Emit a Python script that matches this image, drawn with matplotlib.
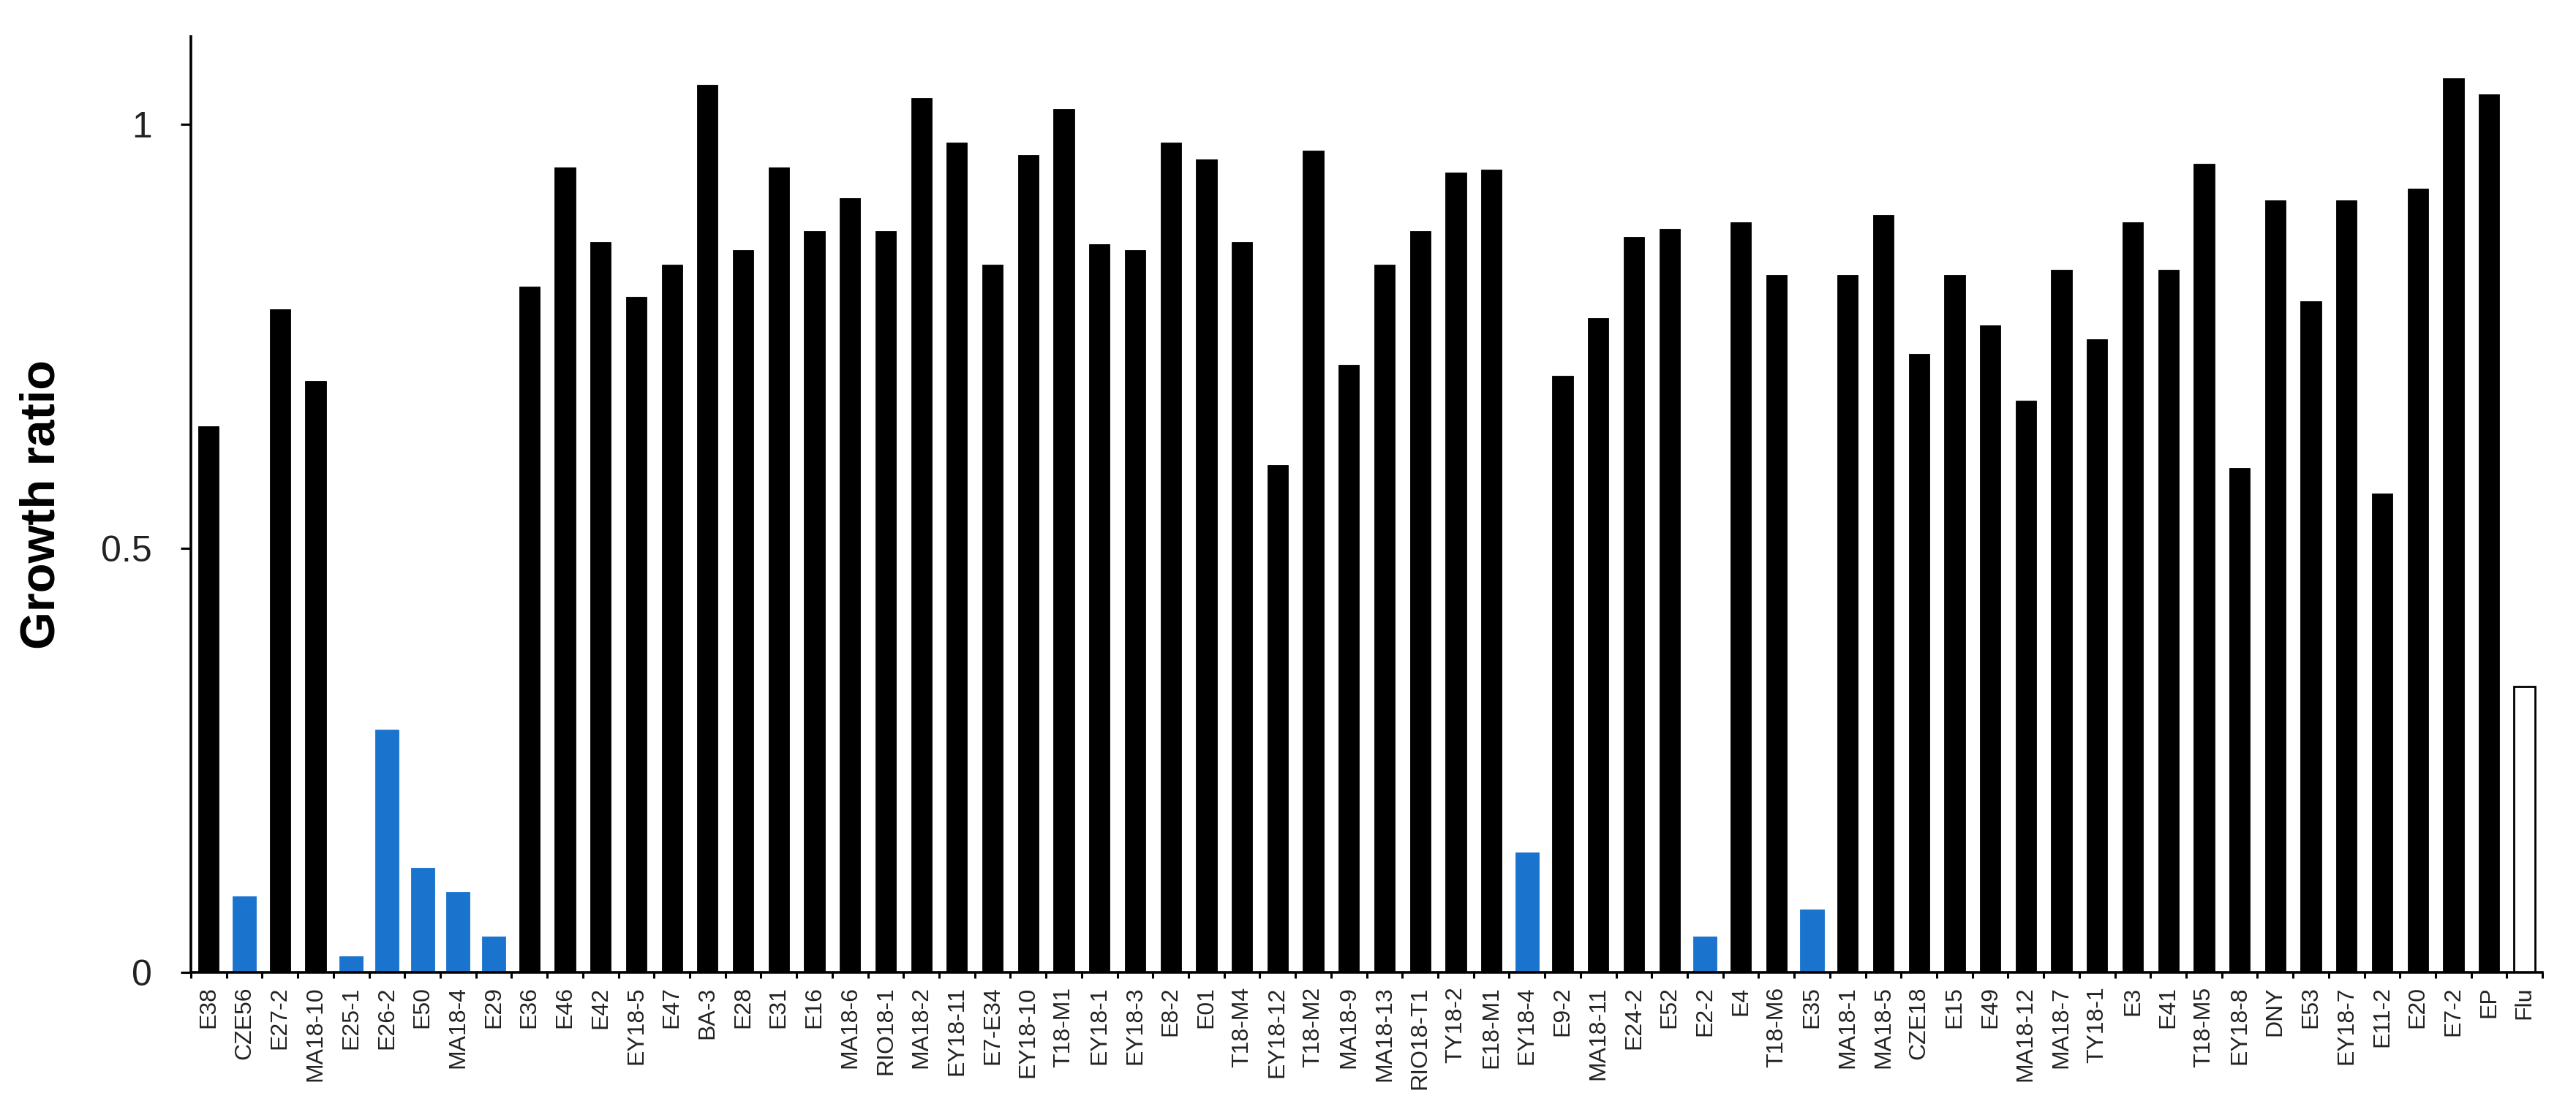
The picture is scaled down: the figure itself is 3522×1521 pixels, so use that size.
import matplotlib
matplotlib.use("Agg")
import matplotlib.pyplot as plt
import numpy as np

plt.rcParams.update({
    "font.family": ["Liberation Sans", "DejaVu Sans"],
    "axes.linewidth": 1.3,
})

# ── Data ──────────────────────────────────────────────────────────────────────
strains = [
    "E38", "CZE56", "E27-2", "MA18-10", "E25-1", "E26-2", "E50", "MA18-4", "E29",
    "E36", "E46", "E42", "EY18-5", "E47", "BA-3", "E28", "E31", "E16", "MA18-6",
    "RIO18-1", "MA18-2", "EY18-11", "E7-E34", "EY18-10", "T18-M1", "EY18-1",
    "EY18-3", "E8-2", "E01", "T18-M4", "EY18-12", "T18-M2", "MA18-9", "MA18-13",
    "RIO18-T1", "TY18-2", "E18-M1", "EY18-4", "E9-2", "MA18-11", "E24-2", "E52",
    "E2-2", "E4", "T18-M6", "E35", "MA18-1", "MA18-5", "CZE18", "E15", "E49",
    "MA18-12", "MA18-7", "TY18-1", "E3", "E41", "T18-M5", "EY18-8", "DNY", "E53",
    "EY18-7", "E11-2", "E20", "E7-2", "EP", "Flu",
]
growth_ratio = [
    0.644, 0.090, 0.782, 0.697, 0.019, 0.286, 0.123, 0.095, 0.042,
    0.808, 0.949, 0.861, 0.796, 0.834, 1.046, 0.851, 0.949, 0.874, 0.913,
    0.874, 1.031, 0.978, 0.834, 0.963, 1.018, 0.858,
    0.851, 0.978, 0.958, 0.861, 0.598, 0.969, 0.716, 0.834,
    0.874, 0.943, 0.946, 0.141, 0.703, 0.771, 0.867, 0.876,
    0.042, 0.884, 0.822, 0.074, 0.822, 0.893, 0.729, 0.822, 0.763,
    0.674, 0.828, 0.746, 0.884, 0.828, 0.953, 0.595, 0.910, 0.791,
    0.910, 0.564, 0.924, 1.054, 1.035, 0.337,
]
# group: "low" = reduced growth (blue), "ctrl" = Flu control (open bar)
group = ["std"] * len(strains)
for s in ["CZE56", "E25-1", "E26-2", "E50", "MA18-4", "E29", "EY18-4", "E2-2", "E35"]:
    group[strains.index(s)] = "low"
group[strains.index("Flu")] = "ctrl"
yticks = [0, 0.5, 1]
ytick_labels = ["0", "0.5", "1"]

# ── Style ─────────────────────────────────────────────────────────────────────
BLUE = "#1A73CC"
face = {"std": "black", "low": BLUE, "ctrl": "white"}
edge = {"std": "black", "low": BLUE, "ctrl": "black"}
width = {"std": 0.58, "low": 0.66, "ctrl": 0.6}

fig = plt.figure(figsize=(17.61, 7.605), dpi=200)
ax = fig.add_axes([0.0741, 0.1256, 0.9129, 0.8415])

x = np.arange(len(strains))
for xi, v, g in zip(x, growth_ratio, group):
    ax.bar(xi, v, width=width[g], color=face[g], edgecolor=edge[g],
           linewidth=1.0 if g == "ctrl" else 0.3)

ax.set_xlim(-0.5, len(strains) - 0.5)
ax.set_ylim(0, 1.103)

ax.set_xticks(x)
ax.set_xticklabels(strains, rotation=90, fontsize=11.5, color="#222222")
ax.set_xticks(np.arange(len(strains) + 1) - 0.5, minor=True)
ax.tick_params(axis="x", which="major", length=0, pad=7)
ax.tick_params(axis="x", which="minor", length=3, width=1.1, direction="out")

ax.set_yticks(yticks)
ax.set_yticklabels(ytick_labels, fontsize=18, color="#222222")
ax.tick_params(axis="y", length=5, width=1.1, pad=14)

ax.set_ylabel("Growth ratio", fontsize=24, fontweight="bold", labelpad=18)

for side in ["top", "right"]:
    ax.spines[side].set_visible(False)

fig.savefig("out.png", dpi=200, facecolor="white")
